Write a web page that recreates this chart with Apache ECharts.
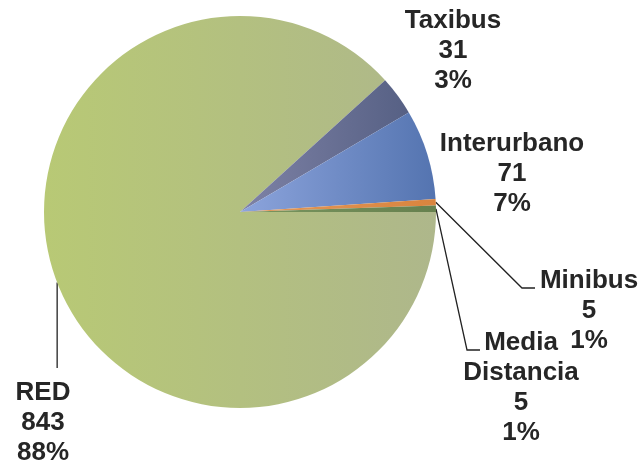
<!DOCTYPE html>
<html>
<head>
<meta charset="utf-8">
<script src="https://cdn.jsdelivr.net/npm/echarts@6/dist/echarts.min.js"></script>
<style>
  html, body { margin: 0; padding: 0; background: #fff; }
  #chart { width: 643px; height: 467px; }
</style>
</head>
<body>
<div id="chart"></div>
<script>
  // datos
  var categories = ['RED', 'Taxibus', 'Interurbano', 'Minibus', 'Media Distancia'];
  var values = [843, 31, 71, 5, 5];

  // colores (degradado izquierda -> derecha)
  var colors = [
    ['#b8c975', '#aeb78b'],
    ['#7e82a6', '#566084'],
    ['#8ca4dc', '#5474b0'],
    ['#e39a5c', '#d9843e'],
    ['#7a9660', '#66804e']
  ];

  // posicion del centro de cada etiqueta y codo de la linea guia
  var labelPos = {
    'RED': { x: 43, y: 423, line: 'down', endDy: -55 },
    'Taxibus': { x: 453, y: 51 },
    'Interurbano': { x: 512, y: 174 },
    'Minibus': { x: 589, y: 311, line: [[-67, -23], [-54, -23]] },
    'Media Distancia': { x: 521, y: 388, line: [[-54, -38], [-41, -38]] }
  };

  var total = values.reduce(function (a, b) { return a + b; }, 0);

  var chart = echarts.init(document.getElementById('chart'));

  var seriesData = categories.map(function (name, i) {
    var pos = labelPos[name];
    return {
      name: name,
      value: values[i],
      itemStyle: {
        color: new echarts.graphic.LinearGradient(0, 0, 1, 0, [
          { offset: 0, color: colors[i][0] },
          { offset: 1, color: colors[i][1] }
        ])
      },
      labelLine: { show: !!pos.line }
    };
  });

  chart.setOption({
    backgroundColor: '#ffffff',
    animation: false,
    series: [
      {
        type: 'pie',
        center: [240, 212],
        radius: 196,
        startAngle: 0,
        clockwise: true,
        avoidLabelOverlap: false,
        itemStyle: { borderWidth: 0 },
        label: {
          show: true,
          position: 'outside',
          fontFamily: 'Liberation Sans, Arial, sans-serif',
          fontWeight: 'bold',
          fontSize: 26,
          lineHeight: 30,
          color: '#262626',
          align: 'center',
          formatter: function (p) {
            var pct = Math.round(p.value / total * 100);
            return p.name.replace(' ', '\n') + '\n' + p.value + '\n' + pct + '%';
          }
        },
        labelLine: {
          show: true,
          length: 10,
          length2: 10,
          lineStyle: { color: '#222', width: 1.3 }
        },
        labelLayout: function (params) {
          var name = categories[params.dataIndex];
          var pos = labelPos[name];
          var out = { x: pos.x, y: pos.y, align: 'center', verticalAlign: 'middle' };
          var p0 = params.labelLinePoints && params.labelLinePoints[0];
          if (p0 && pos.line === 'down') {
            out.labelLinePoints = [p0, [p0[0], pos.y + pos.endDy]];
          } else if (p0 && pos.line) {
            out.labelLinePoints = [p0].concat(pos.line.map(function (d) {
              return [pos.x + d[0], pos.y + d[1]];
            }));
          }
          return out;
        },
        data: seriesData
      }
    ]
  });
</script>
</body>
</html>
